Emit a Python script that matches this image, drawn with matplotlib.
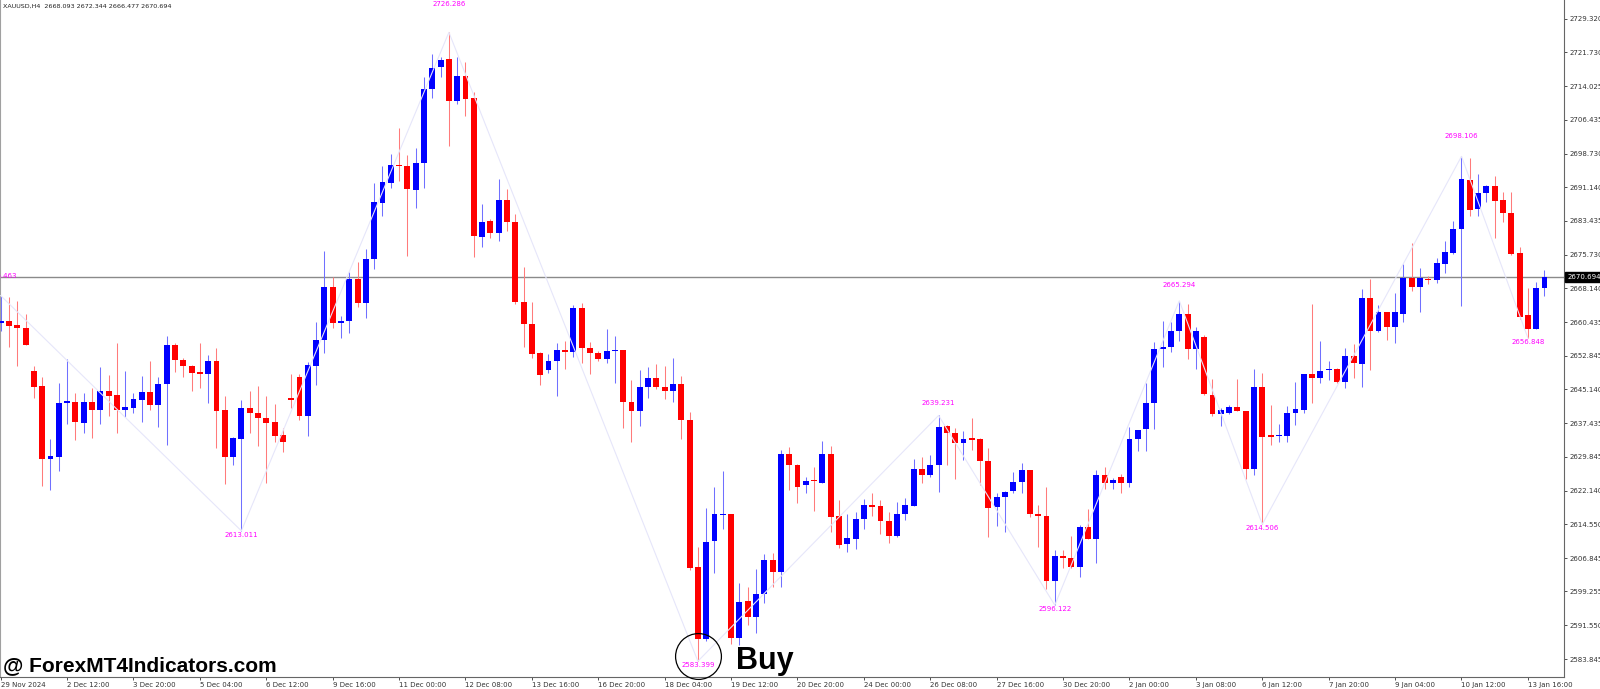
import numpy as np
import matplotlib
matplotlib.use('Agg')
import matplotlib.pyplot as plt
import matplotlib.transforms as mtransforms

# XAUUSD H4 candles (29 Nov 2024 04:00 .. 13 Jan 16:00)
opens = [
    2660.3, 2660.8, 2659.9, 2659.1, 2649.3, 2645.9, 2629.3, 2629.9, 2642.0, 2642.4,
    2637.6, 2642.4, 2640.5, 2644.7, 2643.8, 2640.5, 2641.0, 2642.8, 2644.6, 2641.5,
    2646.3, 2655.2, 2651.8, 2650.5, 2649.0, 2648.7, 2651.5, 2640.5, 2629.9, 2633.8,
    2641.0, 2639.7, 2638.6, 2637.7, 2634.8, 2643.1, 2648.0, 2639.0, 2650.5, 2656.4,
    2668.4, 2660.3, 2660.6, 2670.2, 2664.7, 2674.7, 2687.4, 2692.1, 2696.1, 2695.8,
    2690.5, 2696.7, 2713.4, 2718.3, 2720.2, 2710.7, 2716.4, 2711.3, 2679.7, 2683.4,
    2680.8, 2688.1, 2683.2, 2665.0, 2660.0, 2653.4, 2649.6, 2651.6, 2654.1, 2653.7,
    2663.7, 2654.6, 2653.5, 2652.0, 2653.8, 2654.1, 2642.4, 2640.3, 2645.6, 2647.7,
    2645.8, 2644.8, 2646.3, 2638.2, 2604.7, 2588.4, 2610.6, 2616.6, 2616.9, 2588.6,
    2597.1, 2593.5, 2598.6, 2606.4, 2603.7, 2630.5, 2628.0, 2623.4, 2624.6, 2624.0,
    2630.4, 2616.5, 2610.0, 2611.2, 2615.6, 2618.9, 2618.7, 2615.3, 2611.9, 2616.8,
    2618.7, 2627.1, 2625.6, 2628.0, 2636.8, 2635.2, 2632.9, 2633.9, 2633.9, 2628.9,
    2618.4, 2620.8, 2622.1, 2624.2, 2626.8, 2616.9, 2616.5, 2601.7, 2607.3, 2606.8,
    2604.7, 2613.9, 2611.1, 2625.7, 2624.0, 2625.2, 2624.0, 2633.8, 2636.1, 2642.1,
    2654.3, 2654.9, 2658.5, 2662.4, 2654.3, 2657.1, 2643.9, 2639.6, 2639.7, 2641.2,
    2640.3, 2627.0, 2645.8, 2634.6, 2634.6, 2634.6, 2639.7, 2640.5, 2648.6, 2647.8,
    2649.5, 2649.9, 2646.9, 2652.7, 2650.9, 2666.0, 2658.5, 2662.7, 2659.4, 2662.4,
    2670.4, 2668.4, 2670.2, 2670.0, 2673.6, 2676.2, 2681.5, 2692.7, 2686.1, 2689.8,
    2691.4, 2688.2, 2685.3, 2676.1, 2662.1, 2658.9, 2668.093,
]
highs = [
    2666.463, 2666.2, 2665.2, 2662.4, 2650.5, 2647.9, 2633.8, 2646.5, 2652.0, 2644.4,
    2644.4, 2645.4, 2650.2, 2648.4, 2655.8, 2649.3, 2644.4, 2648.3, 2651.6, 2648.0,
    2657.3, 2655.6, 2652.2, 2650.7, 2655.6, 2653.0, 2654.6, 2643.7, 2634.3, 2642.7,
    2644.8, 2645.9, 2643.7, 2641.8, 2636.3, 2648.6, 2648.6, 2651.3, 2660.5, 2676.6,
    2670.8, 2661.8, 2671.9, 2674.2, 2677.0, 2692.0, 2695.8, 2698.6, 2704.6, 2698.4,
    2700.1, 2716.1, 2721.3, 2720.6, 2726.286, 2720.6, 2719.6, 2712.8, 2687.3, 2683.8,
    2692.9, 2690.7, 2684.9, 2673.0, 2664.9, 2653.7, 2653.1, 2655.8, 2656.2, 2664.3,
    2664.7, 2656.0, 2653.9, 2658.8, 2657.3, 2654.1, 2647.3, 2649.6, 2650.2, 2651.0,
    2650.4, 2652.3, 2648.2, 2640.1, 2609.4, 2618.1, 2622.9, 2626.7, 2616.9, 2601.2,
    2600.3, 2604.3, 2607.8, 2607.9, 2631.4, 2632.1, 2628.2, 2625.2, 2627.5, 2633.4,
    2632.3, 2620.0, 2616.8, 2617.2, 2620.2, 2621.7, 2620.0, 2617.4, 2619.5, 2620.4,
    2629.3, 2629.9, 2630.2, 2639.231, 2637.1, 2636.3, 2635.7, 2638.6, 2634.0, 2631.8,
    2621.7, 2622.1, 2626.3, 2628.4, 2626.9, 2618.9, 2622.9, 2608.7, 2608.7, 2611.8,
    2614.3, 2617.9, 2626.8, 2627.6, 2625.0, 2625.9, 2636.7, 2636.0, 2646.5, 2656.0,
    2660.8, 2660.5, 2665.294, 2664.6, 2659.4, 2657.5, 2647.5, 2640.9, 2641.6, 2647.5,
    2640.3, 2649.8, 2648.9, 2641.6, 2637.3, 2641.4, 2646.9, 2648.7, 2664.5, 2656.2,
    2651.6, 2650.0, 2654.5, 2655.4, 2668.0, 2670.2, 2664.3, 2662.8, 2667.1, 2673.6,
    2678.5, 2672.8, 2670.9, 2675.1, 2678.9, 2683.4, 2698.106, 2697.8, 2694.0, 2691.6,
    2693.6, 2689.9, 2689.9, 2677.4, 2668.1, 2669.6, 2672.344,
]
lows = [
    2658.5, 2654.7, 2650.5, 2655.2, 2643.2, 2623.1, 2622.3, 2626.7, 2637.2, 2633.7,
    2635.3, 2634.0, 2637.3, 2639.2, 2635.3, 2638.9, 2639.7, 2637.7, 2640.5, 2636.7,
    2632.5, 2649.1, 2648.0, 2644.8, 2645.4, 2642.0, 2631.9, 2623.6, 2628.0, 2613.011,
    2635.3, 2632.3, 2624.0, 2633.1, 2631.0, 2640.9, 2638.2, 2634.6, 2646.2, 2653.4,
    2659.0, 2656.8, 2658.0, 2663.8, 2661.3, 2672.4, 2684.6, 2691.0, 2692.4, 2675.5,
    2686.4, 2690.9, 2711.3, 2716.2, 2700.5, 2709.9, 2707.3, 2675.3, 2677.4, 2679.6,
    2678.9, 2681.2, 2664.5, 2654.7, 2652.2, 2646.2, 2648.9, 2643.7, 2649.7, 2652.6,
    2651.1, 2648.6, 2651.5, 2651.2, 2646.5, 2636.3, 2633.3, 2636.9, 2643.1, 2645.2,
    2642.9, 2642.2, 2633.8, 2604.1, 2583.399, 2588.1, 2603.4, 2613.4, 2587.3, 2587.1,
    2591.6, 2589.7, 2596.6, 2600.2, 2600.3, 2622.3, 2619.3, 2621.6, 2617.6, 2624.0,
    2612.8, 2609.2, 2608.1, 2609.0, 2613.4, 2616.4, 2612.4, 2610.2, 2611.7, 2615.5,
    2618.7, 2623.8, 2625.3, 2621.9, 2628.0, 2624.7, 2629.1, 2631.4, 2623.4, 2611.7,
    2614.1, 2612.7, 2621.7, 2621.7, 2616.1, 2609.3, 2599.7, 2596.122, 2604.5, 2604.5,
    2602.6, 2611.1, 2605.6, 2622.5, 2622.5, 2621.7, 2622.9, 2631.2, 2631.2, 2636.1,
    2650.2, 2653.7, 2656.2, 2652.0, 2649.9, 2643.8, 2639.0, 2636.8, 2639.6, 2640.2,
    2624.9, 2625.7, 2614.506, 2632.5, 2633.1, 2633.1, 2637.1, 2639.9, 2642.0, 2646.7,
    2647.3, 2646.5, 2645.5, 2647.7, 2645.8, 2649.6, 2658.3, 2656.4, 2655.6, 2660.5,
    2667.4, 2662.8, 2669.1, 2669.3, 2671.5, 2675.9, 2664.1, 2684.6, 2684.6, 2687.8,
    2679.5, 2683.3, 2675.7, 2661.1, 2656.848, 2658.8, 2666.477,
]
closes = [
    2660.7, 2659.6, 2659.1, 2655.3, 2645.8, 2629.3, 2630.0, 2642.0, 2642.5, 2637.7,
    2642.4, 2640.5, 2644.7, 2643.7, 2640.5, 2641.1, 2642.9, 2644.6, 2641.5, 2646.3,
    2655.2, 2651.8, 2650.5, 2648.9, 2648.7, 2651.5, 2640.3, 2629.9, 2634.0, 2641.0,
    2639.7, 2638.6, 2637.6, 2634.6, 2633.1, 2642.7, 2639.0, 2650.6, 2656.3, 2668.5,
    2660.3, 2660.6, 2670.2, 2664.7, 2674.7, 2687.7, 2692.2, 2696.1, 2695.8, 2690.7,
    2696.6, 2713.4, 2718.1, 2720.0, 2710.7, 2716.4, 2711.1, 2679.9, 2683.3, 2680.8,
    2688.2, 2683.3, 2665.0, 2660.0, 2653.1, 2648.4, 2651.6, 2654.1, 2653.7, 2663.7,
    2654.6, 2653.5, 2652.0, 2653.9, 2653.9, 2642.4, 2640.2, 2645.6, 2647.7, 2645.8,
    2644.8, 2646.3, 2638.2, 2604.5, 2588.4, 2610.5, 2616.8, 2616.9, 2588.6, 2596.9,
    2593.5, 2598.6, 2606.4, 2603.7, 2630.5, 2628.0, 2622.9, 2624.4, 2624.3, 2630.4,
    2616.2, 2609.8, 2611.3, 2615.7, 2618.9, 2618.5, 2615.3, 2611.9, 2616.8, 2618.9,
    2627.1, 2625.6, 2628.0, 2636.7, 2635.2, 2632.9, 2633.9, 2633.7, 2628.9, 2618.3,
    2620.8, 2621.8, 2624.1, 2626.8, 2616.8, 2616.5, 2601.7, 2607.3, 2606.8, 2604.7,
    2613.9, 2611.1, 2625.8, 2624.0, 2624.6, 2624.0, 2633.8, 2635.9, 2642.1, 2654.3,
    2654.9, 2658.5, 2662.4, 2654.3, 2658.5, 2644.0, 2639.5, 2640.5, 2641.2, 2640.3,
    2627.0, 2645.8, 2634.4, 2634.4, 2634.9, 2639.7, 2640.6, 2648.6, 2647.8, 2649.4,
    2649.8, 2646.9, 2652.7, 2651.1, 2666.0, 2658.5, 2662.7, 2659.4, 2662.7, 2670.5,
    2668.4, 2670.4, 2670.0, 2673.8, 2676.3, 2681.6, 2692.9, 2685.9, 2689.7, 2691.4,
    2688.0, 2685.3, 2675.9, 2661.7, 2658.9, 2668.1, 2670.694,
]

# zigzag pivots (bar index, price)
zz_idx = [0, 29, 54, 84, 113, 127, 142, 152, 176, 184]
zz_price = [2666.463, 2613.011, 2726.286, 2583.399, 2639.231,
            2596.122, 2665.294, 2614.506, 2698.106, 2656.848]
zz_label_off = [20, -4, 28, -4, 12.5, -4, 16, -4, 20, -4]   # px, + is above

date_idx = list(range(0, 185, 8))
date_labels = ['29 Nov 2024', '2 Dec 12:00', '3 Dec 20:00', '5 Dec 04:00', '6 Dec 12:00',
               '9 Dec 16:00', '11 Dec 00:00', '12 Dec 08:00', '13 Dec 16:00', '16 Dec 20:00',
               '18 Dec 04:00', '19 Dec 12:00', '20 Dec 20:00', '24 Dec 00:00', '26 Dec 08:00',
               '27 Dec 16:00', '30 Dec 20:00', '2 Jan 00:00', '3 Jan 08:00', '6 Jan 12:00',
               '7 Jan 20:00', '9 Jan 04:00', '10 Jan 12:00', '13 Jan 16:00']

price_ticks = [2729.320, 2721.730, 2714.025, 2706.435, 2698.730, 2691.140, 2683.435,
               2675.730, 2668.140, 2660.435, 2652.845, 2645.140, 2637.435, 2629.845,
               2622.140, 2614.550, 2606.845, 2599.255, 2591.550, 2583.845]

o = np.array(opens); h = np.array(highs); l = np.array(lows); c = np.array(closes)
h = np.maximum(h, np.maximum(o, c))
l = np.minimum(l, np.minimum(o, c))
x = np.arange(len(o))
up = c >= o

W, H = 1600, 689
fig = plt.figure(figsize=(W / 100, H / 100), dpi=100)
fig.patch.set_facecolor('white')
ax = fig.add_axes([0, 1 - 677 / H, 1564 / W, 677 / H])

body_col = np.where(up, '#0000ff', '#ff0000')
wick_col = np.where(up, '#7070ff', '#ff7b7b')

ax.axhline(c[-1], color='#8a8a8a', lw=1.0, zorder=1)
ax.vlines(x, l, h, colors=wick_col, linewidth=0.75, zorder=2)
ax.bar(x, np.maximum(np.abs(c - o), 0.3), bottom=np.minimum(o, c), width=0.7,
       color=body_col, linewidth=0, zorder=3)

ax.plot(zz_idx, zz_price, color='#e6e6fa', lw=0.8, zorder=4)
for i, p, off in zip(zz_idx, zz_price, zz_label_off):
    ax.annotate(f'{p:.3f}', (i, p), xytext=(0, off * 0.72), textcoords='offset points',
                ha='center', va='center', fontsize=5, color='#ff00ff', zorder=6)

ax.set_xlim(-0.084, 188.35)
ax.set_ylim(2579.81, 2733.63)

ax.spines['top'].set_visible(False)
ax.spines['left'].set_color('#a0a0a0')
for s in ('right', 'bottom'):
    ax.spines[s].set_color('#666666')
    ax.spines[s].set_linewidth(0.8)

ax.yaxis.tick_right()
ax.set_yticks(price_ticks)
ax.set_yticklabels([f'{v:.3f}' for v in price_ticks])
ax.tick_params(axis='y', direction='out', length=2.5, width=0.6, labelsize=5,
               pad=1.5, colors='#333333')
ax.set_xticks(date_idx)
ax.set_xticklabels(date_labels, ha='left')
ax.tick_params(axis='x', direction='out', length=2.5, width=0.6, labelsize=5,
               pad=0.8, colors='#333333')

# current price box on the scale
ax.text(1.002, c[-1], f'{c[-1]:.3f}', transform=ax.get_yaxis_transform(),
        ha='left', va='center', fontsize=5, color='white', zorder=10, clip_on=False,
        bbox=dict(facecolor='black', edgecolor='black', boxstyle='square,pad=0.25'))

# header
fig.text(3 / W, 1 - 6 / H, f'XAUUSD,H4  {o[-1]:.3f} {h[-1]:.3f} {l[-1]:.3f} {c[-1]:.3f}',
         fontsize=4.6, ha='left', va='center', color='#222222')

# buy circle around the low
circ_tr = mtransforms.offset_copy(ax.transData, fig=fig, x=0, y=3.6, units='points')
ax.plot(zz_idx[3], zz_price[3], marker='o', ms=33, mfc='none', mec='black', mew=0.9,
        transform=circ_tr, zorder=7, clip_on=False)

fig.text(736 / W, 1 - 669 / H, 'Buy', fontsize=22, fontweight='bold',
         family=['Liberation Sans', 'DejaVu Sans'], ha='left', va='baseline', color='black')
fig.text(3 / W, 1 - 671 / H, '@ ForexMT4Indicators.com', fontsize=15, fontweight='bold',
         family=['Liberation Sans', 'DejaVu Sans'], ha='left', va='baseline', color='black')

fig.savefig('out.png', dpi=100)
